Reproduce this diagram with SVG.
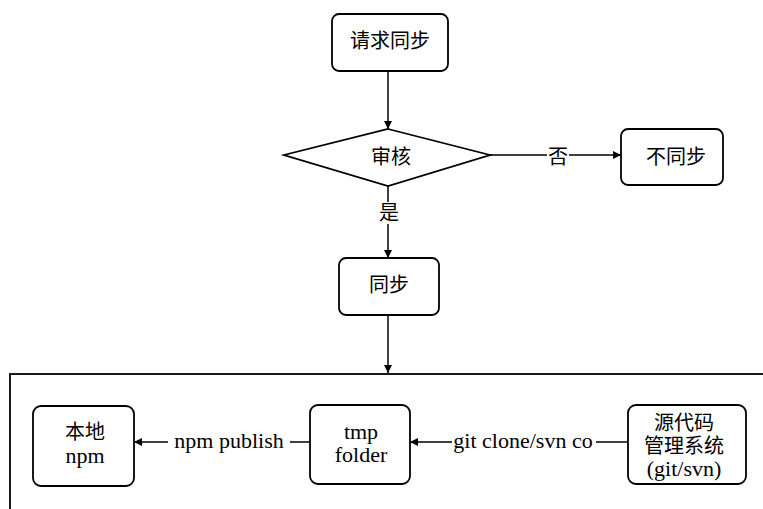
<svg xmlns="http://www.w3.org/2000/svg" width="763" height="509" viewBox="0 0 763 509">
<style>
.box{fill:#fff;stroke:#000;stroke-width:1.8}
.t{font-family:"Liberation Serif","Noto Sans CJK SC",serif;font-size:20px;fill:#000;text-anchor:middle;dominant-baseline:central}
.e{font-family:"Liberation Serif","Times New Roman",serif}
.l{font-size:22px}
.c{fill:none;stroke:#000;stroke-width:1.5}
.lb{fill:#fff;stroke:none}
</style>
<defs>
<marker id="ah" viewBox="0 0 10 10" refX="10" refY="5" markerWidth="10" markerHeight="8" markerUnits="userSpaceOnUse" orient="auto">
<path d="M0,0 L10,5 L0,10 z" fill="#000"/>
</marker>
</defs>
<rect width="763" height="509" fill="#fff"/>
<g id="container"><rect x="10" y="374" width="800" height="200" fill="none" stroke="#000" stroke-width="1.8"/></g>
<g id="connectors">
<line class="c" x1="388" y1="71" x2="388" y2="129" marker-end="url(#ah)"/>
<line class="c" x1="490" y1="155" x2="621" y2="155" marker-end="url(#ah)"/>
<rect class="lb" x="547" y="145" width="22" height="22"/>
<text class="t" x="558" y="157">否</text>
<line class="c" x1="388" y1="186" x2="388" y2="258" marker-end="url(#ah)"/>
<rect class="lb" x="378" y="202" width="22" height="22"/>
<text class="t" x="389" y="213">是</text>
<line class="c" x1="388" y1="315" x2="388" y2="373" marker-end="url(#ah)"/>
<line class="c" x1="310" y1="442" x2="134" y2="442" marker-end="url(#ah)"/>
<rect class="lb" x="168" y="430" width="122" height="24"/>
<text class="t e l" x="229" y="440">npm publish</text>
<line class="c" x1="628" y1="442" x2="410" y2="442" marker-end="url(#ah)"/>
<rect class="lb" x="452" y="430" width="144" height="24"/>
<text class="t e l" x="523" y="440">git clone/svn co</text>
</g>
<g id="req"><rect class="box" x="332" y="14" width="116" height="57" rx="7"/><text class="t" x="390" y="41">请求同步</text></g>
<g id="review"><polygon class="box" points="388,129 490,155 388,186 284,155"/><text class="t" x="391" y="157">审核</text></g>
<g id="nosync"><rect class="box" x="621" y="129" width="102" height="56" rx="7"/><text class="t" x="676" y="157">不同步</text></g>
<g id="sync"><rect class="box" x="339" y="258" width="100" height="57" rx="7"/><text class="t" x="389" y="285">同步</text></g>
<g id="local"><rect class="box" x="33" y="406" width="101" height="80" rx="8"/><text class="t" x="85" y="432">本地</text><text class="t e l" x="85" y="455">npm</text></g>
<g id="tmp"><rect class="box" x="310" y="405" width="100" height="79" rx="8"/><text class="t e l" x="361" y="431">tmp</text><text class="t e l" x="361" y="454">folder</text></g>
<g id="scm"><rect class="box" x="628" y="405" width="118" height="79" rx="8"/><text class="t" x="684" y="423">源代码</text><text class="t" x="684" y="446">管理系统</text><text class="t e l" x="684" y="468">(git/svn)</text></g>
</svg>
